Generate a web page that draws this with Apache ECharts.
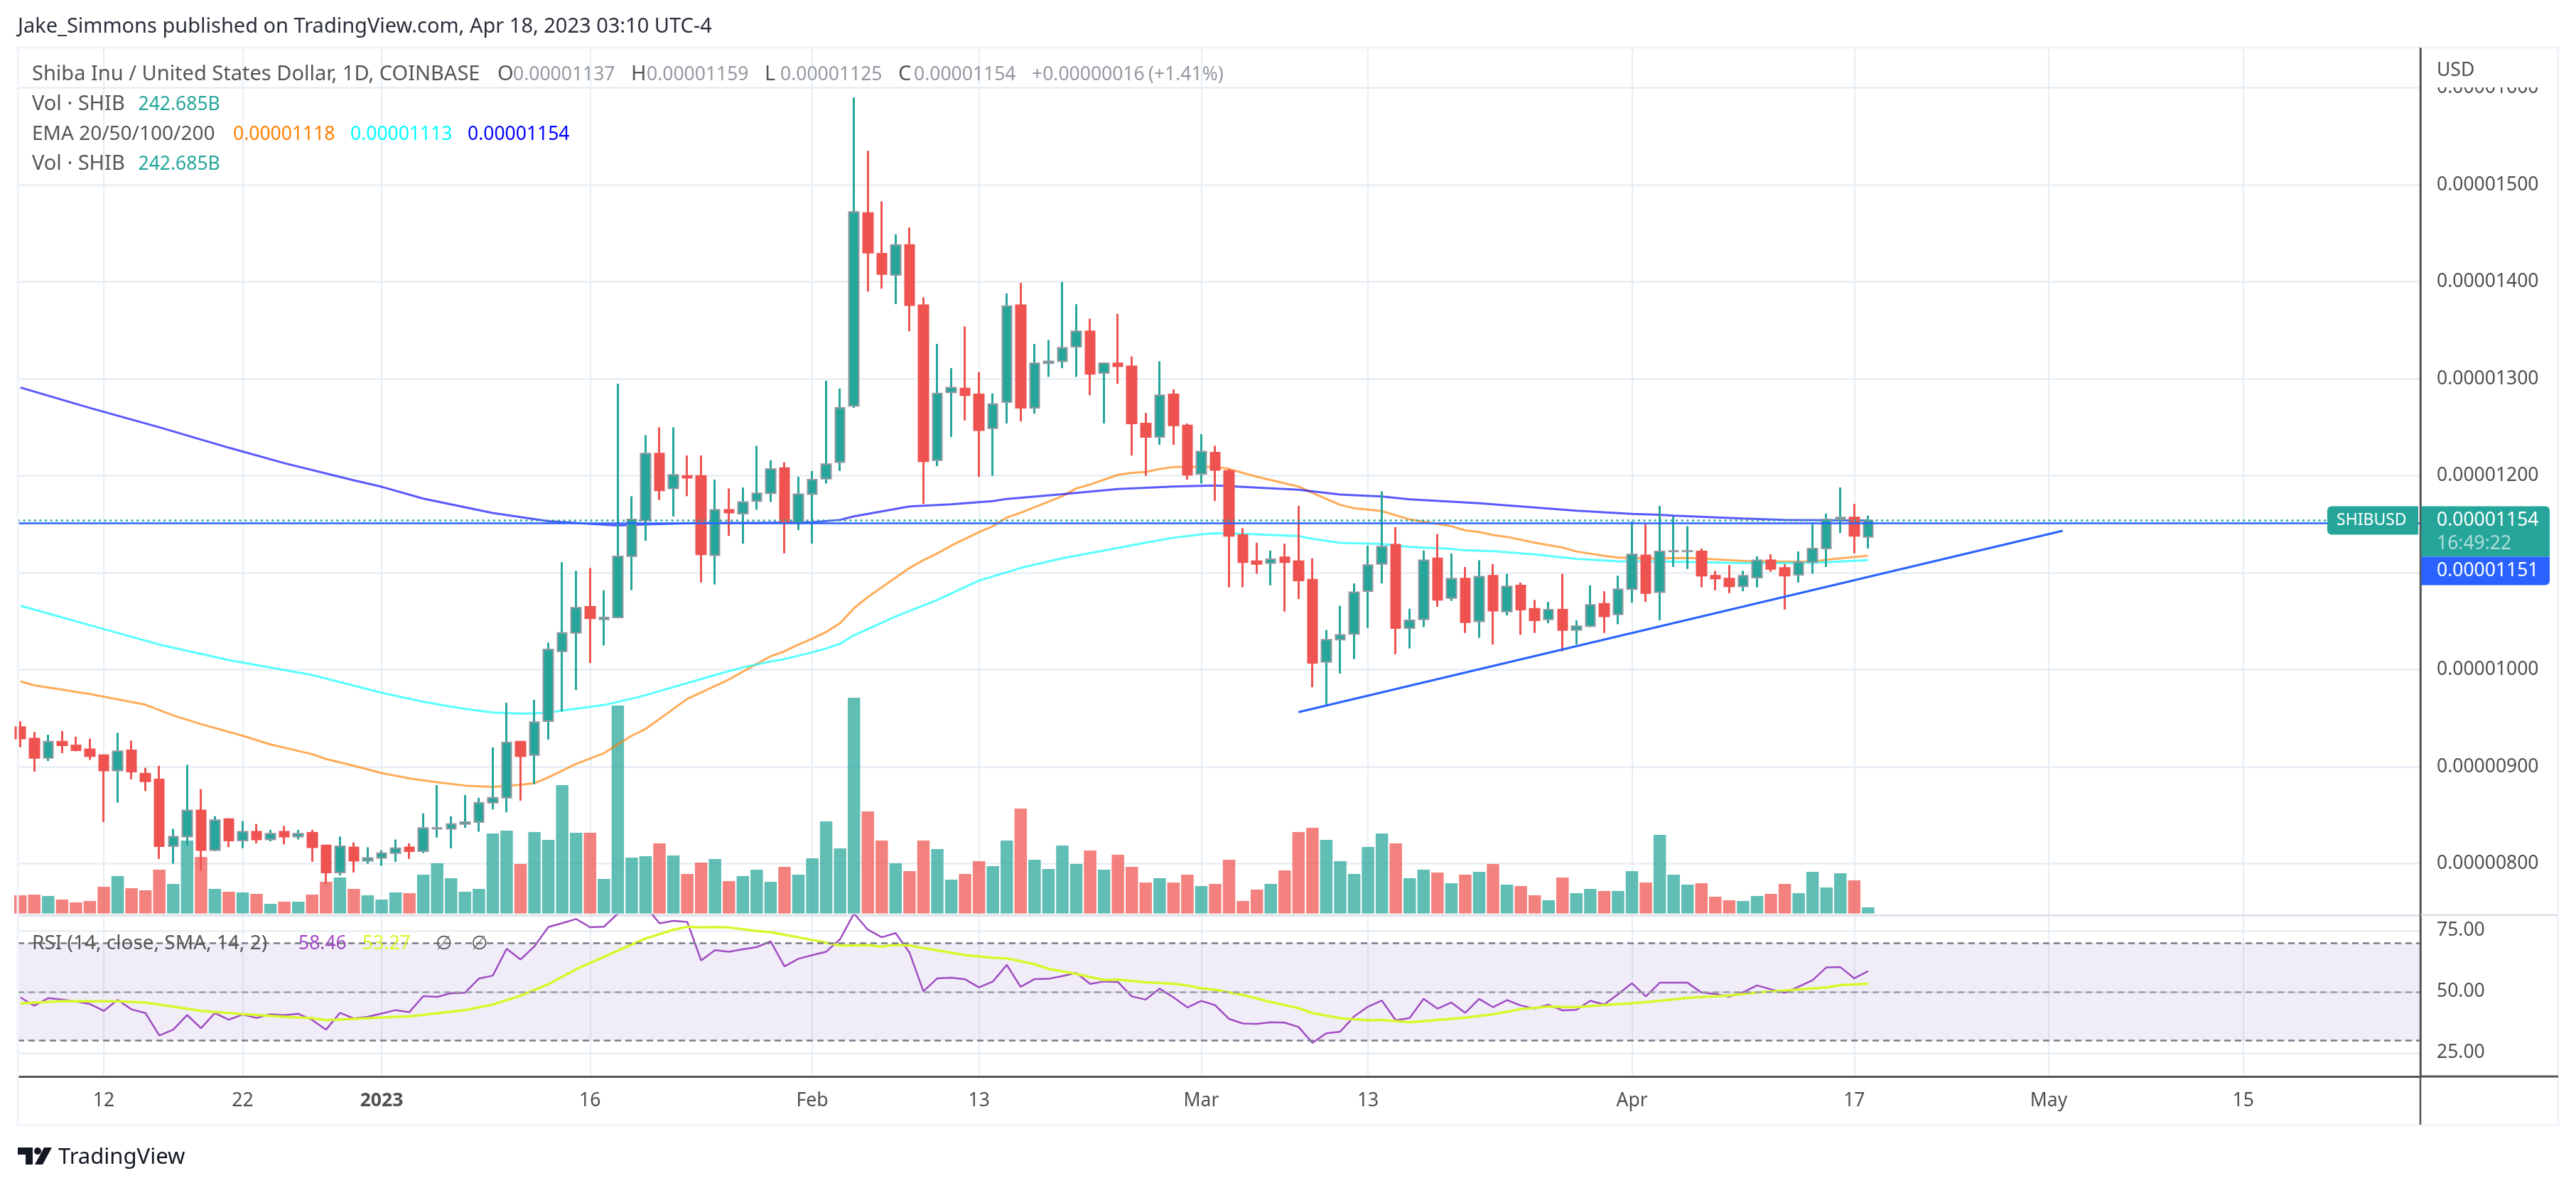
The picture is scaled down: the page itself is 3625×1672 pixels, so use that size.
<!DOCTYPE html>
<html><head><meta charset="utf-8">
<script src="https://cdn.jsdelivr.net/npm/echarts@6/dist/echarts.min.js"></script>
<style>html,body{margin:0;padding:0;background:#fff}#c{width:3625px;height:1672px}</style></head>
<body><div id="c"></div>
<script>
// Prices are in units of 0.00000001 USD. Candles run daily; day 0 = 2023-01-01.
const firstDay = -26;
const opens = [941,929,909,926,922,918,912,896,917,893,
887,818,828,855,814,846,824,833,825,833,
828,832,819,791,817,803,806,811,817,813,
836,836,841,843,863,868,926,912,947,1019,
1038,1065,1052,1054,1117,1154,1223,1187,1200,1200,
1118,1165,1161,1174,1182,1208,1151,1181,1197,1214,
1272,1471,1429,1407,1438,1376,1216,1286,1290,1284,
1249,1276,1376,1270,1316,1318,1333,1349,1306,1316,
1313,1254,1240,1284,1252,1202,1224,1205,1139,1112,
1110,1116,1112,1093,1008,1031,1037,1081,1109,1129,
1043,1052,1115,1074,1094,1050,1097,1060,1087,1063,
1052,1062,1041,1045,1068,1057,1083,1118,1080,1122,
1122,1122,1097,1094,1086,1095,1113,1105,1098,1111,
1125,1155,1157,1137];
const closes = [929,909,926,922,917,911,896,916,895,885,
818,828,855,814,845,824,833,825,831,828,
831,817,791,818,803,806,811,816,813,837,
837,841,843,863,868,925,911,946,1021,1038,
1064,1053,1054,1117,1155,1223,1185,1201,1198,1119,
1165,1162,1173,1182,1207,1152,1181,1196,1212,1270,
1472,1430,1408,1438,1376,1215,1285,1291,1283,1247,
1274,1375,1270,1316,1318,1332,1349,1305,1316,1313,
1254,1240,1283,1252,1201,1225,1206,1138,1111,1109,
1114,1111,1092,1007,1031,1036,1080,1108,1127,1043,
1051,1113,1072,1094,1049,1096,1061,1086,1062,1051,
1062,1041,1045,1067,1055,1083,1119,1079,1122,1122.6,
1122.6,1097,1094,1086,1097,1113,1104,1097,1111,1125,
1155,1157,1138,1154];
const lows = [920,895,906,914,916,907,843,863,887,875,
805,800,819,793,813,817,816,821,823,820,
825,802,779,788,791,800,798,802,805,811,
827,816,837,833,856,853,865,882,928,957,
979,1007,1025,1053,1082,1133,1175,1158,1179,1090,
1088,1138,1130,1165,1173,1120,1144,1130,1192,1205,
1270,1390,1393,1377,1349,1171,1210,1240,1257,1199,
1200,1254,1256,1264,1302,1311,1302,1283,1254,1295,
1221,1200,1232,1232,1196,1192,1174,1085,1085,1099,
1087,1060,1073,982,964,996,1011,1043,1089,1016,
1022,1044,1065,1071,1038,1033,1026,1056,1036,1038,
1048,1019,1026,1044,1038,1047,1069,1070,1051,1106,
1104,1085,1082,1079,1081,1085,1101,1062,1090,1099,
1106,1141,1120,1125];
const highs = [947,936,933,937,931,929,912,935,927,899,
901,836,902,877,849,847,844,841,835,839,
835,835,819,828,822,817,814,825,821,852,
881,849,871,868,920,966,926,969,1028,1111,
1102,1105,1082,1295,1179,1242,1250,1250,1221,1221,
1196,1187,1188,1231,1216,1214,1199,1205,1298,1290,
1590,1535,1483,1449,1456,1384,1336,1311,1354,1307,
1285,1388,1399,1336,1340,1400,1377,1362,1317,1367,
1323,1265,1318,1289,1254,1243,1231,1207,1146,1131,
1123,1130,1169,1115,1041,1066,1089,1128,1184,1147,
1063,1123,1140,1120,1106,1113,1109,1099,1090,1072,
1070,1099,1051,1087,1081,1097,1153,1150,1169,1158,
1148,1125,1102,1108,1102,1117,1119,1109,1122,1151,
1161,1188,1171,1159];
// Volume in billions of SHIB
const volumes = [716,744,688,549,437,493,1051,1469,995,911,
1720,1162,2864,2223,967,856,828,772,381,465,
465,744,1246,1414,967,716,549,828,800,1525,
1972,1386,856,967,3143,3255,1944,3199,2892,5041,
3171,3171,1358,8165,2195,2251,2753,2279,1553,2000,
2139,1274,1469,1720,1246,1832,1525,2167,3618,2558,
8472,4008,2864,1972,1665,2864,2530,1330,1553,2055,
1860,2864,4120,2111,1748,2669,1944,2474,1720,2306,
1832,1218,1386,1218,1525,1079,1163,2111,493,939,
1163,1693,3199,3367,2892,2055,1553,2613,3143,2753,
1386,1720,1609,1190,1525,1637,1944,1135,1079,716,
521,1414,800,967,884,884,1665,1218,3088,1525,
1135,1190,660,521,493,688,772,1163,800,1637,
1023,1581,1302,242.685];
// Moving averages: candle number (1 = first candle) and value read at that candle
const ema20Candles = [1,2,6,10,12,14,17,19,22,23,25,27,29,31,33,35,37,38,39,41,43,45,46,49,52,55,56,57,58,59,60,61,62,63,64,65,66,67,68,69,70,71,72,73,76,77,78,80,81,82,83,84,87,88,90,93,94,96,97,99,101,104,105,106,107,108,110,112,113,115,116,118,121,122,125,128,130,131,132,133,134];
const ema20Values = [988,984,975,964,953,944,932,923,913,908,901,893.5,888,884,880.6,879.3,881.5,883,889,903,914,932,939,970,990,1014,1019,1026,1032,1039,1048,1063.5,1075,1085,1095,1105,1113,1120,1128,1135,1142,1148,1157,1162,1179,1187,1191,1201,1203,1204,1207,1209,1209.4,1207,1199,1189,1182.5,1170,1166.6,1163.7,1155,1148,1143.7,1142,1139,1137,1131,1126,1122,1117.5,1115.6,1114.7,1115.4,1114.7,1112.2,1111.5,1111.5,1113.5,1115,1116.2,1117.6];
const ema50Candles = [1,6,11,16,22,27,30,33,35,37,38,39,41,43,45,46,51,53,55,56,58,59,60,61,64,67,70,73,76,79,82,84,86,87,89,93,94,96,99,101,104,105,107,110,113,116,120,125,128,130,131,134];
const ema50Values = [1066,1046,1026,1010,994.6,976.3,967,959.7,956,954.8,955,956,959.9,963.6,970.2,973.8,994.6,1002.4,1008.5,1011,1018,1022,1026.8,1035.6,1055,1072,1092,1105,1115,1123,1131,1136.1,1139.6,1140.8,1140.2,1137.9,1135,1130.9,1129.8,1126.6,1124.6,1123.1,1122.2,1119,1114.4,1111.8,1111.5,1110,1110,1110.3,1111,1113.2];
const ema200Candles = [1,6,11,16,20,25,27,30,35,39,42,44,46,50,54,58,60,61,62,65,68,71,72,76,80,84,87,89,93,96,99,101,106,110,113,115,117,119,120,125,128,133,134];
const ema200Values = [1291,1270,1250,1229,1213,1195.3,1188.7,1176.5,1161.6,1153.3,1150.4,1148.9,1149.9,1151.4,1151.4,1152.1,1154.6,1158.2,1160.8,1168.4,1170.7,1173.9,1176.2,1181.1,1186.3,1189,1190,1188.6,1185.7,1180.7,1178.7,1175.8,1171.8,1167.4,1164,1162.3,1160.8,1159.9,1158.9,1156,1154.5,1154,1154];
// RSI (14) at every candle; the ones running off the pane top are estimates
const rsiValues = [47.7,44.3,47.4,46.8,46,45,42.2,46.7,42.8,41.3,
32.1,34.5,40.5,35.1,41.3,38.6,40.7,39.3,40.8,40.4,
41,38.5,34.5,41.4,39.1,39.8,41.1,42.5,41.7,48.2,
47.9,49.4,49.6,55.4,56.6,67.6,63.2,68.6,76.5,78.1,
79.8,76.4,76.6,82,85,85,78,79,78.6,62.8,
67,66.4,67.4,68.3,70.6,60.4,63.5,65,66.4,71.5,
82,75.4,72.3,74,66,50.2,55.5,55.8,55.1,51.8,
54.2,61,52,55.2,55.3,56.4,57.7,53.2,54.2,54,
48.1,46.8,51.3,47.7,43.6,46.3,44.5,38.9,37,36.9,
37.5,37.4,35.6,29.1,33,33.7,39.9,43.9,46.4,38.3,
39.3,47.1,43.1,45.6,41.4,47.1,43.7,46.6,44.4,43.1,
44.7,42.4,42.6,46.3,44.8,49,53.5,48.1,53.7,53.7,
53.7,49.7,49.1,48,49.8,52.6,51,49.6,52.1,54.7,
60,60.1,55.5,58.46];
const rsiMaCandles = [1,4,8,10,12,14,17,20,22,23,26,28,29,31,33,35,37,39,41,43,45,46,48,49,50,51,52,54,55,57,59,60,62,63,64,65,66,69,71,72,74,75,77,79,80,82,84,85,86,87,89,91,93,94,96,98,99,101,103,105,107,109,111,113,115,117,119,121,124,126,129,131,132,134];
const rsiMaValues = [45.2,46.2,46.1,45.6,43.9,42.2,40.9,39.8,39.2,38.4,39.2,39.8,39.9,41.2,42.5,44.8,48.4,53.1,59.2,64.3,69.3,71.8,75.4,76.6,76.3,76.5,76.3,74.9,74.4,72.3,70.1,68.9,69.1,68.5,69.2,68.9,67.9,65,63.9,63.7,61.3,59.4,57.3,54.8,55,53.9,53.3,52.6,51.4,50.8,48.7,45.8,43.3,41.3,39.2,38.3,38.5,37.5,38.5,39.4,40.8,42.9,43.9,43.7,44.6,45.3,46.3,47.5,48.5,49.7,51,51.8,52.7,53.27];
// Hand-drawn rising trend line
const trendDays = [66,121];
const trendPrices = [956.3,1143.3];
const lastPrice = 1154, otherPrice = 1151;
// Axis ticks
const dayTicks = [-20,-10,0,15,31,43,59,71,90,106,120,134];
const dayTickLabels = ['12','22','2023','16','Feb','13','Mar','13','Apr','17','May','15'];
const priceTicks = [800,900,1000,1100,1200,1300,1400,1500,1600];
const rsiTicks = [25,50,75];
const rsiLevels = [70,50,30];

const FONT = '"Noto Sans"', FS = 26.5, FL = 29;
const UP='#26a69a', DOWN='#ef5350', GRID='#e6eef4', DARK='#555555', TXT='#4f4f4f';
const xMin=-26.19, xMax=146.75, volMax=34000;
const atCandle=(cs,vs)=>cs.map((c,k)=>[firstDay+c-1,vs[k]]);
const fmtPrice=v=>(v/1e8).toFixed(8);
const wicks=opens.map((o,n)=>[firstDay+n,o,closes[n],lows[n],highs[n]]);
const bodies=opens.map((o,n)=>[firstDay+n,o,closes[n],Math.min(o,closes[n]),Math.max(o,closes[n])]);
const volData=volumes.map((v,n)=>({value:[firstDay+n,v],itemStyle:{color:closes[n]>=opens[n]?'rgba(38,166,154,0.73)':'rgba(239,83,80,0.73)'}}));
const xSplit={show:true,lineStyle:{color:GRID,width:2}};
const xBase={type:'value',min:xMin,max:xMax,axisTick:{show:false,customValues:dayTicks},splitLine:xSplit};

const chart=echarts.init(document.getElementById('c'),null,{renderer:'canvas'});
const option={
 animation:false,backgroundColor:'#ffffff',
 grid:[
  {left:25,right:219,top:67,height:1221},
  {left:25,right:219,top:67,height:1218.7},
  {left:25,right:219,top:1288,height:227}
 ],
 xAxis:[
  Object.assign({},xBase,{gridIndex:0,axisLabel:{show:false},axisLine:{show:true,onZero:false,lineStyle:{color:'#e0e3eb',width:3}}}),
  {type:'value',gridIndex:1,min:xMin,max:xMax,show:false},
  Object.assign({},xBase,{gridIndex:2,axisLine:{show:true,onZero:false,lineStyle:{color:DARK,width:3}},
    axisLabel:{show:true,customValues:dayTicks,margin:21,fontFamily:FONT,fontSize:FS,color:TXT,
      formatter:v=>{const s=dayTickLabels[dayTicks.indexOf(v)];return s==='2023'?'{b|2023}':s;},
      rich:{b:{fontFamily:FONT,fontSize:FS,fontWeight:'bold',color:TXT}}}})
 ],
 yAxis:[
  {type:'value',gridIndex:0,position:'right',min:747,max:1641.5,
   axisLine:{show:true,onZero:false,lineStyle:{color:DARK,width:2.5}},
   axisTick:{show:false,customValues:priceTicks},
   axisLabel:{customValues:priceTicks,margin:23,fontFamily:FONT,fontSize:FS,color:TXT,formatter:fmtPrice},
   splitLine:{show:true,lineStyle:{color:GRID,width:2.5}}},
  {type:'value',gridIndex:1,min:0,max:volMax,show:false},
  {type:'value',gridIndex:2,position:'right',min:15.36,max:81.35,
   axisLine:{show:true,onZero:false,lineStyle:{color:DARK,width:2.5}},
   axisTick:{show:false,customValues:rsiTicks},
   axisLabel:{customValues:rsiTicks,margin:23,fontFamily:FONT,fontSize:FS,color:TXT,formatter:v=>v.toFixed(2)},
   splitLine:{show:true,lineStyle:{color:GRID,width:2.5}}}
 ],
 series:[
  {name:'Vol',type:'bar',xAxisIndex:1,yAxisIndex:1,barWidth:17.5,z:1,data:volData,silent:true},
  {name:'EMA20',type:'line',xAxisIndex:0,yAxisIndex:0,data:atCandle(ema20Candles,ema20Values),showSymbol:false,z:2,silent:true,lineStyle:{color:'#ff8000',width:3,opacity:.65}},
  {name:'EMA50',type:'line',xAxisIndex:0,yAxisIndex:0,data:atCandle(ema50Candles,ema50Values),showSymbol:false,z:2,silent:true,lineStyle:{color:'#00ffff',width:3,opacity:.65}},
  {name:'EMA200',type:'line',xAxisIndex:0,yAxisIndex:0,data:atCandle(ema200Candles,ema200Values),showSymbol:false,z:2,silent:true,lineStyle:{color:'#0000ff',width:3,opacity:.65}},
  {name:'Wicks',type:'candlestick',xAxisIndex:0,yAxisIndex:0,barWidth:1,z:3,silent:true,encode:{x:0,y:[1,2,3,4]},data:wicks,
   itemStyle:{color:UP,color0:DOWN,borderColor:UP,borderColor0:DOWN,borderColorDoji:UP,borderWidth:3}},
  {name:'Bodies',type:'candlestick',xAxisIndex:0,yAxisIndex:0,barWidth:14,z:4,silent:true,encode:{x:0,y:[1,2,3,4]},data:bodies,
   itemStyle:{color:UP,color0:DOWN,borderColor:'#9598a1',borderColor0:DOWN,borderColorDoji:'#9598a1',borderWidth:2},
   markLine:{silent:true,symbol:'none',animation:false,label:{show:false},data:[
     {yAxis:lastPrice,lineStyle:{color:UP,width:2.5,type:[3,4.6]}},
     {yAxis:otherPrice,lineStyle:{color:'#2962ff',width:2.5,type:'solid'}}]}},
  {name:'Trend',type:'line',xAxisIndex:0,yAxisIndex:0,z:5,showSymbol:false,silent:true,data:trendDays.map((d,k)=>[d,trendPrices[k]]),lineStyle:{color:'#2962ff',width:3}},
  {name:'RSI',type:'line',xAxisIndex:2,yAxisIndex:2,z:3,showSymbol:false,silent:true,data:rsiValues.map((v,n)=>[firstDay+n,v]),lineStyle:{color:'#a04cc2',width:2.5},
   markArea:{silent:true,itemStyle:{color:'rgba(126,87,194,0.11)'},data:[[{yAxis:rsiLevels[0]},{yAxis:rsiLevels[2]}]]},
   markLine:{silent:true,symbol:'none',animation:false,label:{show:false},data:[
     {yAxis:rsiLevels[0],lineStyle:{color:'#787b86',width:2.5,type:[9,6]}},
     {yAxis:rsiLevels[1],lineStyle:{color:'#9a9ca6',width:2.5,type:[9,6]}},
     {yAxis:rsiLevels[2],lineStyle:{color:'#787b86',width:2.5,type:[9,6]}}]}},
  {name:'RSI MA',type:'line',xAxisIndex:2,yAxisIndex:2,z:4,showSymbol:false,silent:true,data:atCandle(rsiMaCandles,rsiMaValues),lineStyle:{color:'#d6f82c',width:3.5}}
 ]
};
chart.setOption(option);

// Overlay text and price tags (positions of the tags come from the axis scale)
const yOf=p=>chart.convertToPixel({yAxisIndex:0},p);
const txt=(x,y,text,fill,size,z)=>({type:'text',z:z||50,silent:true,style:{x:x,y:y,text:text,fill:fill,fontFamily:FONT,fontSize:size||FS,verticalAlign:'middle',align:'left'}});
const yLast=yOf(lastPrice);
const LBL='#555555', VAL='#9598a1';
const ohlc=[['O',opens[133]],['H',highs[133]],['L',lows[133]],['C',closes[133]]];
const ohlcEls=[];
ohlc.forEach((p,k)=>{ohlcEls.push(txt(700+188*k,105,p[0],LBL,FL));ohlcEls.push(txt(722+188*k,105,fmtPrice(p[1]),VAL));});
chart.setOption({graphic:{elements:[
  {type:'rect',z:40,silent:true,shape:{x:3408,y:68,width:190,height:55},style:{fill:'#ffffff'}},
  {type:'rect',z:60,silent:true,shape:{x:25,y:67,width:3575,height:1516},style:{fill:'none',stroke:'#f0f3fa',lineWidth:3}},
  {type:'line',z:61,silent:true,shape:{x1:3406,y1:67,x2:3406,y2:1583},style:{stroke:DARK,lineWidth:2.5}},
  {type:'line',z:61,silent:true,shape:{x1:3406,y1:1515,x2:3600,y2:1515},style:{stroke:DARK,lineWidth:3}},
  {type:'line',z:61,silent:true,shape:{x1:3407,y1:1288,x2:3600,y2:1288},style:{stroke:'#e0e3eb',lineWidth:3}},
  txt(25,38,'Jake_Simmons published on TradingView.com, Apr 18, 2023 03:10 UTC-4','#2a2e39',FL),
  txt(45,105,'Shiba Inu / United States Dollar, 1D, COINBASE',LBL,FL),
  ...ohlcEls,
  txt(1452,105,'+0.00000016',VAL),
  txt(1616,105,'(+1.41%)',VAL),
  txt(45,147,'Vol · SHIB',LBL,FL),
  txt(194.5,147,'242.685B',UP),
  txt(45,189,'EMA 20/50/100/200',LBL,28),
  txt(328,189,'0.00001118','#ff8000'),
  txt(493,189,'0.00001113','#00ffff'),
  txt(658,189,'0.00001154','#0000ff'),
  txt(45,231,'Vol · SHIB',LBL,FL),
  txt(194.5,231,'242.685B',UP),
  txt(45,1328,'RSI (14, close, SMA, 14, 2)',LBL,28),
  txt(420,1328,'58.46','#a04cc2'),
  txt(510,1328,'53.27','#d6f82c'),
  txt(613,1328,'∅',LBL),
  txt(663,1328,'∅',LBL),
  txt(3429,99,'USD',TXT),
  {type:'rect',z:55,silent:true,shape:{x:3275,y:yLast-20,width:128,height:40,r:[6,0,0,6]},style:{fill:UP}},
  txt(3288,yLast,'SHIBUSD','#ffffff',23,58),
  {type:'rect',z:55,silent:true,shape:{x:3406,y:yLast-20,width:182,height:71,r:[0,6,0,0]},style:{fill:UP}},
  txt(3429,yLast,fmtPrice(lastPrice),'#ffffff',FS,58),
  txt(3429,yLast+33,'16:49:22','rgba(255,255,255,0.62)',FS,58),
  {type:'rect',z:55,silent:true,shape:{x:3406,y:yLast+51,width:182,height:40,r:[0,0,6,0]},style:{fill:'#2962ff'}},
  txt(3429,yLast+71,fmtPrice(otherPrice),'#ffffff',FS,58),
  {type:'polygon',z:50,silent:true,shape:{points:[[25,1615],[46,1615],[46,1639],[36,1639],[36,1625],[25,1625]]},style:{fill:'#131722'}},
  {type:'circle',z:50,silent:true,shape:{cx:53,cy:1620,r:5},style:{fill:'#131722'}},
  {type:'polygon',z:50,silent:true,shape:{points:[[62,1615],[73,1615],[60,1639],[49,1639]]},style:{fill:'#131722'}},
  txt(82,1629,'TradingView','#131722',31)
]}});
</script></body></html>
